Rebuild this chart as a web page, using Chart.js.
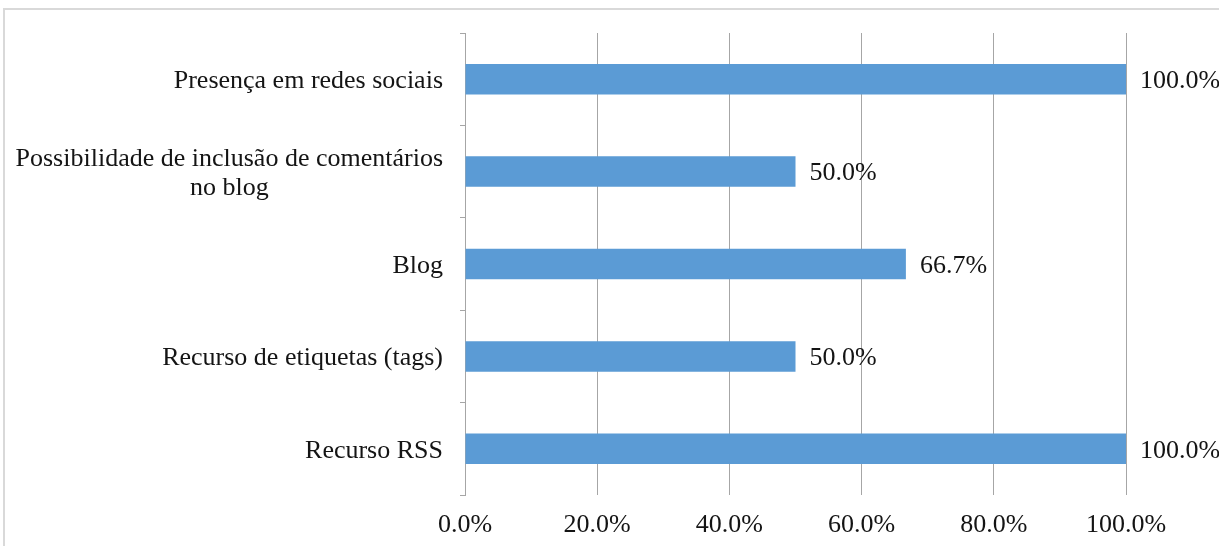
<!DOCTYPE html>
<html>
<head>
<meta charset="utf-8">
<script src="https://cdn.jsdelivr.net/npm/chart.js@4.4.1/dist/chart.umd.min.js"></script>
<style>
  html, body { margin: 0; padding: 0; background: #ffffff; }
  #wrap { position: relative; width: 1219px; height: 546px; }
</style>
</head>
<body>
<div id="wrap"><canvas id="c"></canvas></div>
<script>
const categories = [
  ['Presença em redes sociais'],
  ['Possibilidade de inclusão de comentários', 'no blog'],
  ['Blog'],
  ['Recurso de etiquetas (tags)'],
  ['Recurso RSS']
];
const values = [100.0, 50.0, 66.7, 50.0, 100.0];
const xTicks = [0, 20, 40, 60, 80, 100];

const FONT = '"Liberation Serif", "Times New Roman", serif';
const TEXT = '#141414';
const GRID = '#a6a6a6';

const frame = {
  id: 'frame',
  beforeDraw(chart) {
    const ctx = chart.ctx;
    ctx.save();
    ctx.strokeStyle = '#d9d9d9';
    ctx.lineWidth = 2;
    ctx.strokeRect(4, 9, 1400, 700);
    ctx.restore();
  }
};

const yLabels = {
  id: 'yLabels',
  afterDraw(chart) {
    const ctx = chart.ctx;
    const ys = chart.scales.y;
    const right = ys.right - 22;
    ctx.save();
    ctx.font = '26px ' + FONT;
    ctx.fillStyle = TEXT;
    ctx.textAlign = 'center';
    ctx.textBaseline = 'middle';
    const lh = 29;
    categories.forEach((lines, i) => {
      const maxW = Math.max(...lines.map(l => ctx.measureText(l).width));
      const cx = right - maxW / 2;
      const cy = ys.getPixelForValue(i) + 2;
      const y0 = cy - (lines.length - 1) * lh / 2;
      lines.forEach((l, j) => ctx.fillText(l, cx, y0 + j * lh));
    });
    ctx.restore();
  }
};

const valueLabels = {
  id: 'valueLabels',
  afterDatasetsDraw(chart) {
    const ctx = chart.ctx;
    const meta = chart.getDatasetMeta(0);
    ctx.save();
    ctx.font = '26px ' + FONT;
    ctx.fillStyle = TEXT;
    ctx.textAlign = 'left';
    ctx.textBaseline = 'middle';
    meta.data.forEach((bar, i) => {
      ctx.fillText(values[i].toFixed(1) + '%', bar.x + 14, bar.y + 2);
    });
    ctx.restore();
  }
};

new Chart(document.getElementById('c'), {
  type: 'bar',
  data: {
    labels: categories,
    datasets: [{
      data: values,
      backgroundColor: '#5b9bd5',
      borderWidth: 0,
      categoryPercentage: 1.0,
      barPercentage: 0.33
    }]
  },
  options: {
    indexAxis: 'y',
    responsive: true,
    maintainAspectRatio: false,
    animation: false,
    layout: { padding: { top: 33, right: 93, left: 0, bottom: 0 } },
    plugins: { legend: { display: false }, tooltip: { enabled: false } },
    scales: {
      x: {
        min: 0, max: 100,
        afterBuildTicks(scale) { scale.ticks = xTicks.map(v => ({ value: v })); },
        afterFit(scale) { scale.height = 51; },
        grid: { color: GRID, lineWidth: 1, drawTicks: false },
        border: { display: false },
        ticks: {
          padding: 15,
          color: TEXT,
          font: { family: FONT, size: 26 },
          callback: v => Number(v).toFixed(1) + '%',
          maxRotation: 0
        }
      },
      y: {
        afterFit(scale) { scale.width = 465; },
        grid: { offset: true, drawOnChartArea: false, drawTicks: true, tickLength: 5, color: GRID },
        border: { display: true, color: GRID, width: 1 },
        ticks: { color: 'rgba(0,0,0,0)', font: { family: FONT, size: 26 } }
      }
    }
  },
  plugins: [frame, yLabels, valueLabels]
});
</script>
</body>
</html>
